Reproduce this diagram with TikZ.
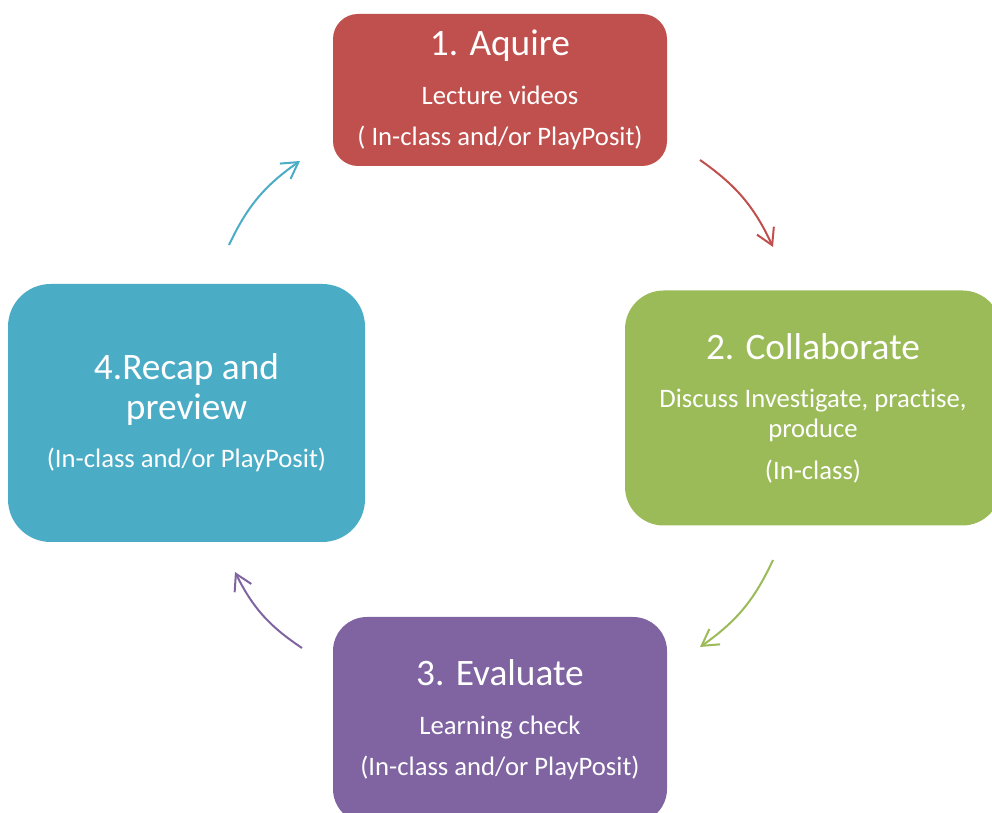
\documentclass[tikz,border=0pt]{standalone}
\usepackage{fontspec}
\setmainfont{Carlito}[Ligatures=NoCommon]
\usetikzlibrary{arrows.meta,positioning}

\definecolor{acqred}{HTML}{C0504D}
\definecolor{colgreen}{HTML}{9BBB59}
\definecolor{evalpurple}{HTML}{8064A2}
\definecolor{recapblue}{HTML}{4BACC6}

\newcommand\steptitle[1]{{\fontsize{28}{32}\selectfont #1}}

\tikzset{
  stepbox/.style={draw=none, text=white, align=center, inner sep=0pt,
    font=\fontsize{20}{22.5}\selectfont},
  cyclearrow/.style={line width=1.5pt, -{Straight Barb[length=12pt,width=14pt]}, bend left=15},
}

\begin{document}
\begin{tikzpicture}[x=0.75pt, y=0.75pt]
\useasboundingbox (0,0) rectangle (992,813);

% the four steps
\node[stepbox, fill=acqred, rounded corners=18.75pt, minimum width=250.5pt, minimum height=114pt]
  (acquire) at (500,723)
  {\steptitle{1. Aquire}\\[14pt] Lecture videos\\[8.5pt] ( In-class and/or PlayPosit)};
\node[stepbox, fill=colgreen, rounded corners=29pt, minimum width=282pt, minimum height=176.25pt]
  (collab) at (813,405)
  {\steptitle{2. Collaborate}\\[14pt] Discuss Investigate, practise,\\ produce\\[8.5pt] (In-class)};
\node[stepbox, fill=evalpurple, rounded corners=25.5pt, minimum width=250.5pt, minimum height=154.5pt]
  (evaluate) at (500,93)
  {\steptitle{3. Evaluate}\\[14pt] Learning check\\[8.5pt] (In-class and/or PlayPosit)};
\node[stepbox, fill=recapblue, rounded corners=32pt, minimum width=267.75pt, minimum height=193.5pt]
  (recap) at (186.5,400)
  {\steptitle{4.Recap and}\\[5pt] \steptitle{preview}\\[14pt] (In-class and/or PlayPosit)};

% arrow ends
\coordinate (acq-out) at (700,653);
\coordinate (col-in) at (773,566);
\coordinate (col-out) at (773,253);
\coordinate (eval-in) at (700,166);
\coordinate (eval-out) at (302,165);
\coordinate (rec-in) at (235,241);
\coordinate (rec-out) at (229,568);
\coordinate (acq-in) at (300,652);

\draw[cyclearrow, acqred] (acq-out) to (col-in);
\draw[cyclearrow, colgreen] (col-out) to (eval-in);
\draw[cyclearrow, evalpurple] (eval-out) to (rec-in);
\draw[cyclearrow, recapblue] (rec-out) to (acq-in);
\end{tikzpicture}
\end{document}
